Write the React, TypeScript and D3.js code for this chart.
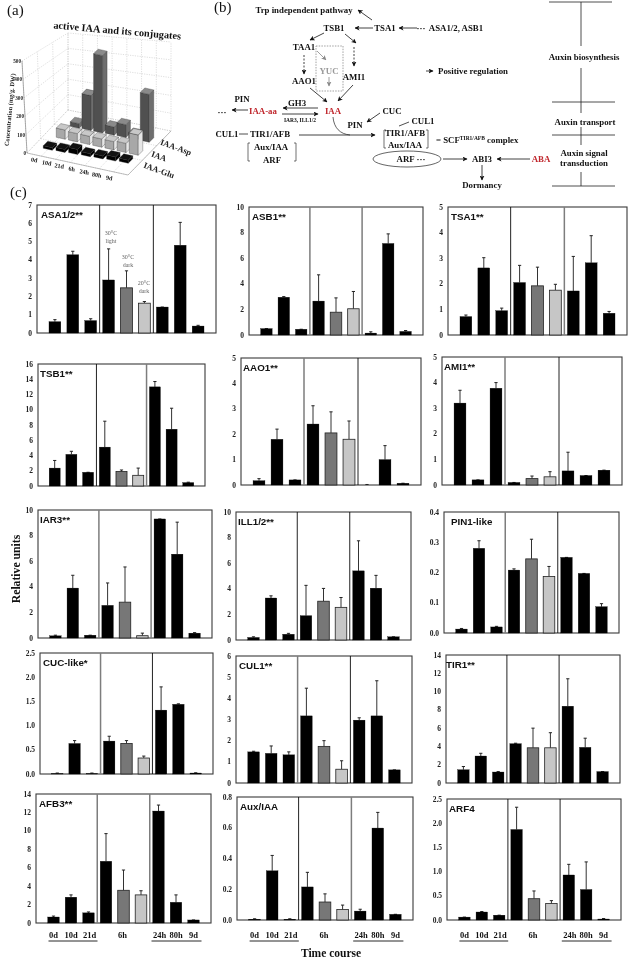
import React from "react";
import * as d3 from "d3";

// ---------- data ----------
const timeLabels = ["0d", "10d", "21d", "6h-a", "6h", "6h-c", "24h", "80h", "9d"];
const lastRow = ["AFB3**", "Aux/IAA", "ARF4"];

const asaV = [0.62, 4.28, 0.68, 2.9, 2.47, 1.63, 1.42, 4.8, 0.38];
const asaT = [0.73, 4.47, 0.78, 4.6, 3.4, 1.72, 1.42, 6.05, 0.42];
const asbV = [0.5, 2.95, 0.45, 2.65, 1.78, 2.05, 0.15, 7.15, 0.28];
const asbT = [0.5, 3.0, 0.45, 4.7, 2.9, 3.4, 0.25, 7.9, 0.35];
const tsaV = [0.72, 2.62, 0.95, 2.05, 1.92, 1.75, 1.72, 2.82, 0.85];
const tsaT = [0.78, 3.02, 1.05, 2.72, 2.65, 1.98, 3.07, 3.88, 0.92];
const tsbV = [2.35, 4.15, 1.8, 5.1, 1.9, 1.4, 13.0, 7.45, 0.45];
const tsbT = [3.35, 4.55, 1.8, 8.5, 2.1, 2.35, 13.7, 10.2, 0.5];
const aaoV = [0.17, 1.8, 0.2, 2.4, 2.05, 1.8, 0.0, 1.0, 0.07];
const aaoT = [0.25, 2.2, 0.2, 3.12, 2.88, 2.52, 0.02, 1.55, 0.07];
const amiV = [3.2, 0.2, 3.78, 0.1, 0.25, 0.32, 0.55, 0.37, 0.58];
const amiT = [3.7, 0.2, 4.0, 0.1, 0.35, 0.52, 1.28, 0.37, 0.58];
const iarV = [0.17, 3.9, 0.22, 2.55, 2.8, 0.18, 9.3, 6.55, 0.38];
const iarT = [0.22, 4.9, 0.22, 4.3, 5.55, 0.38, 9.3, 9.05, 0.42];
const illV = [0.2, 3.28, 0.45, 1.9, 3.03, 2.55, 5.4, 4.05, 0.25];
const illT = [0.25, 3.45, 0.52, 4.27, 4.03, 3.32, 7.75, 5.05, 0.25];
const pinV = [0.013, 0.28, 0.02, 0.208, 0.245, 0.187, 0.25, 0.197, 0.087];
const pinT = [0.015, 0.305, 0.022, 0.212, 0.31, 0.22, 0.25, 0.197, 0.097];
const cucV = [0.01, 0.63, 0.01, 0.68, 0.63, 0.33, 1.32, 1.44, 0.02];
const cucT = [0.02, 0.69, 0.02, 0.78, 0.69, 0.37, 1.8, 1.45, 0.025];
const culV = [1.47, 1.4, 1.33, 3.17, 1.73, 0.65, 2.97, 3.17, 0.62];
const culT = [1.5, 1.75, 1.47, 4.48, 2.0, 1.05, 3.08, 4.83, 0.62];
const tirV = [1.45, 2.95, 1.2, 4.3, 3.85, 3.85, 8.4, 3.9, 1.25];
const tirT = [1.8, 3.25, 1.25, 4.35, 6.0, 5.5, 11.4, 4.9, 1.25];
const afbV = [0.65, 2.8, 1.1, 6.7, 3.55, 3.05, 12.15, 2.25, 0.33];
const afbT = [0.75, 3.05, 1.2, 9.7, 5.75, 3.5, 12.8, 3.05, 0.33];
const auxV = [0.005, 0.32, 0.005, 0.215, 0.117, 0.068, 0.058, 0.598, 0.037];
const auxT = [0.008, 0.42, 0.008, 0.31, 0.17, 0.097, 0.07, 0.7, 0.037];
const arfV = [0.06, 0.165, 0.1, 1.87, 0.44, 0.34, 0.93, 0.63, 0.02];
const arfT = [0.06, 0.175, 0.1, 2.33, 0.6, 0.4, 1.15, 1.2, 0.03];

// panel (a) concentrations
const gcLabels = ["0d", "10d", "21d", "6h", "24h", "80h", "9d"];
const gcGlu = [14, 16, 28, 16, 16, 22, 16];
const gcIaa = [50, 45, 45, 45, 45, 50, 110];
const gcAsp = [25, 190, 420, 45, 70, 30, 260];

// ---------- layout ----------
type P = { name: string; v: number[]; t: number[]; l: number; r: number; top: number; bot: number; max: number; n: number; dec: number; tx?: number; div: [number, number]; };
const G = "#7d7d7d", K = "#0a0a0a";
const panels: P[] = [
  { name: "ASA1/2**", v: asaV, t: asaT, l: 37, r: 216, top: 205, bot: 333, max: 7, n: 7, dec: 0, tx: 4, div: [0, 0] },
  { name: "ASB1**", v: asbV, t: asbT, l: 249, r: 423, top: 207, bot: 335, max: 10, n: 5, dec: 0, div: [1, 1] },
  { name: "TSA1**", v: tsaV, t: tsaT, l: 448, r: 627, top: 207, bot: 335, max: 5, n: 5, dec: 0, div: [0, 1] },
  { name: "TSB1**", v: tsbV, t: tsbT, l: 38, r: 205, top: 364, bot: 486, max: 16, n: 8, dec: 0, tx: 2, div: [0, 1] },
  { name: "AAO1**", v: aaoV, t: aaoT, l: 241, r: 421, top: 358, bot: 485, max: 5, n: 5, dec: 0, tx: 2, div: [1, 0] },
  { name: "AMI1**", v: amiV, t: amiT, l: 442, r: 622, top: 357, bot: 485, max: 5, n: 5, dec: 0, tx: 2, div: [1, 0] },
  { name: "IAR3**", v: iarV, t: iarT, l: 38, r: 212, top: 510, bot: 638, max: 10, n: 5, dec: 0, tx: 2, div: [1, 1] },
  { name: "ILL1/2**", v: illV, t: illT, l: 236, r: 411, top: 512, bot: 640, max: 10, n: 5, dec: 0, tx: 2, div: [0, 0] },
  { name: "PIN1-like", v: pinV, t: pinT, l: 444, r: 619, top: 512, bot: 633, max: 0.4, n: 4, dec: 1, tx: 7, div: [1, 0] },
  { name: "CUC-like*", v: cucV, t: cucT, l: 40, r: 213, top: 653, bot: 774, max: 2.5, n: 5, dec: 1, div: [1, 0] },
  { name: "CUL1**", v: culV, t: culT, l: 236, r: 412, top: 656, bot: 783, max: 6, n: 6, dec: 0, div: [1, 0] },
  { name: "TIR1**", v: tirV, t: tirT, l: 446, r: 620, top: 655, bot: 783, max: 14, n: 7, dec: 0, tx: 0, div: [0, 0] },
  { name: "AFB3**", v: afbV, t: afbT, l: 36, r: 211, top: 794, bot: 923, max: 14, n: 7, dec: 0, div: [1, 1] },
  { name: "Aux/IAA", v: auxV, t: auxT, l: 237, r: 413, top: 797, bot: 920, max: 0.8, n: 4, dec: 1, div: [0, 1] },
  { name: "ARF4", v: arfV, t: arfT, l: 447, r: 621, top: 799, bot: 920, max: 2.5, n: 5, dec: 1, tx: 2, div: [0, 0] },
];

const SERIF = "'Liberation Serif', serif";
const SANS = "'Liberation Sans', sans-serif";
const barFill = (i: number) => (i === 4 ? "#777" : i === 5 ? "#c6c6c6" : "#000");

function Panel({ p }: { p: P }) {
  const x = d3.scalePoint<string>().domain(timeLabels).range([p.l, p.r]).padding(1);
  const y = d3.scaleLinear().domain([0, p.max]).range([p.bot, p.top]);
  const fmt = d3.format(p.dec ? ".1f" : "d");
  const cx = (i: number) => x(timeLabels[i]) as number;
  const d1 = (cx(2) + cx(3)) / 2, d2 = (cx(5) + cx(6)) / 2;
  const last = lastRow.includes(p.name);
  const bw = x.step() * 0.66;
  return (
    <g>
      <rect x={p.l} y={p.top} width={p.r - p.l} height={p.bot - p.top} fill="none" stroke="#3a3a3a" strokeWidth={1.1} />
      {[d1, d2].map((d, k) => (
        <line key={k} x1={d} x2={d} y1={p.top} y2={p.bot} stroke={p.div[k] ? G : K} strokeWidth={p.div[k] ? 1.5 : 0.9} />
      ))}
      {y.ticks(p.n).map((t) => (
        <text key={t} x={p.l - 5} y={y(t) + 2.5} textAnchor="end" fontFamily={SERIF} fontWeight="bold" fontSize={7.5} fill="#222">{fmt(t)}</text>
      ))}
      {p.v.map((v, i) => (
        <g key={i}>
          <line x1={cx(i)} x2={cx(i)} y1={y(v)} y2={y(p.t[i])} stroke="#333" strokeWidth={1} />
          <line x1={cx(i) - 1.6} x2={cx(i) + 1.6} y1={y(p.t[i])} y2={y(p.t[i])} stroke="#222" strokeWidth={1} />
          <rect x={cx(i) - bw / 2} y={y(v)} width={bw} height={Math.max(p.bot - y(v), 0)} fill={barFill(i)} stroke={i === 4 || i === 5 ? "#222" : "#000"} strokeWidth={i === 4 || i === 5 ? 0.8 : 0.3} />
        </g>
      ))}
      <text x={p.l + (p.tx ?? 3)} y={p.top + 12.5} fontFamily={SANS} fontWeight="bold" fontSize={9.8} fill="#111">{p.name}</text>
      {last && (
        <g fontFamily={SERIF} fontWeight="bold" fontSize={8.5} fill="#111" textAnchor="middle">
          {[0, 1, 2, 6, 7, 8].map((i) => (
            <text key={i} x={cx(i) + (i === 2 || i === 6 ? 1 : 0)} y={938}>{timeLabels[i]}</text>
          ))}
          <text x={cx(4) - 1} y={938}>6h</text>
          <line x1={cx(0) - 5} x2={cx(2) + 9} y1={941} y2={941} stroke="#111" strokeWidth={0.9} />
          <line x1={cx(6) - 7} x2={cx(8) + 8} y1={941} y2={941} stroke="#111" strokeWidth={0.9} />
        </g>
      )}
    </g>
  );
}

// ---------- panel (a) ----------
const poly = d3.line<[number, number]>();
type Pt = [number, number];
const FL: Pt = [27, 153], FR: Pt = [128, 175], BR: Pt = [171, 131], BL: Pt = [68, 110];
const lerp = (a: Pt, b: Pt, t: number): Pt => [a[0] + (b[0] - a[0]) * t, a[1] + (b[1] - a[1]) * t];
const zScale = d3.scaleLinear().domain([0, 500]).range([0, 92]);
const zScaleBack = d3.scaleLinear().domain([0, 500]).range([0, 77]);
const zBR = d3.scaleLinear().domain([0, 500]).range([0, 89]);
const zTicks = [0, 100, 200, 300, 400, 500];
const zTickY = d3.scaleLinear().domain([0, 500]).range([153, 61]);

function Bar3D({ c, h, front, side, top }: { c: Pt; h: number; front: string; side: string; top: string }) {
  const e: Pt = [9, 2], d: Pt = [4.5, -4.5];
  const a: Pt = [c[0] - e[0] / 2 - d[0] / 2, c[1] - e[1] / 2 - d[1] / 2];
  const b: Pt = [a[0] + e[0], a[1] + e[1]];
  const g: Pt = [b[0] + d[0], b[1] + d[1]];
  const f: Pt = [a[0] + d[0], a[1] + d[1]];
  const up = (q: Pt): Pt => [q[0], q[1] - h];
  return (
    <g stroke="#222" strokeWidth={0.3}>
      <path d={poly([a, b, up(b), up(a)]) + "Z"} fill={front} />
      <path d={poly([b, g, up(g), up(b)]) + "Z"} fill={side} />
      <path d={poly([up(a), up(b), up(g), up(f)]) + "Z"} fill={top} />
    </g>
  );
}

function Panel3D() {
  const idx = gcLabels.map((_, i) => i);
  const rowX = (a: number, b: number) => d3.scaleLinear().domain([0, 6]).range([a, b]);
  const rows = [
    { vals: gcAsp, x: rowX(77, 147), y: rowX(125, 139), front: "#505050", side: "#6e6e6e", top: "#8a8a8a" },
    { vals: gcIaa, x: rowX(63, 136), y: rowX(136, 152), front: "#a8a8a8", side: "#e6e6e6", top: "#c8c8c8" },
    { vals: gcGlu, x: rowX(50, 126), y: rowX(147, 160), front: "#000", side: "#000", top: "#111" },
  ];
  const gridFrac = d3.range(0, 8).map((i) => i / 7);
  const gridStroke = { stroke: "#bdbdbd", strokeWidth: 0.5, strokeDasharray: "1.2 1.2" };
  return (
    <g>
      {gridFrac.map((t, i) => {
        const a = lerp(FL, FR, t), b = lerp(BL, BR, t);
        const h = zScaleBack(500) + (zBR(500) - zScaleBack(500)) * t;
        return (
          <g key={i} {...gridStroke}>
            <line x1={a[0]} y1={a[1]} x2={b[0]} y2={b[1]} />
            <line x1={b[0]} y1={b[1]} x2={b[0]} y2={b[1] - h} />
          </g>
        );
      })}
      {d3.range(0, 4).map((i) => {
        const t = i / 3, a = lerp(FL, BL, t), b = lerp(FR, BR, t);
        const h = zScale(500) + (zScaleBack(500) - zScale(500)) * t;
        return (
          <g key={i} {...gridStroke}>
            <line x1={a[0]} y1={a[1]} x2={b[0]} y2={b[1]} />
            <line x1={a[0]} y1={a[1]} x2={a[0] - 5 * (1 - t)} y2={a[1] - h} />
          </g>
        );
      })}
      {zTicks.map((z) => (
        <g key={z} {...gridStroke}>
          <line x1={FL[0] - z / 100} y1={FL[1] - zScale(z)} x2={BL[0]} y2={BL[1] - zScaleBack(z)} />
          <line x1={BL[0]} y1={BL[1] - zScaleBack(z)} x2={BR[0]} y2={BR[1] - zBR(z)} />
        </g>
      ))}
      <path d={poly([FL, FR, BR]) as string} fill="none" stroke="#9a9a9a" strokeWidth={0.6} />
      <line x1={FL[0]} y1={FL[1]} x2={FL[0] - 5} y2={FL[1] - zScale(500)} stroke="#777" strokeWidth={0.6} />
      {rows.map((r, k) => (
        <g key={k}>
          {idx.map((i) => (
            <Bar3D key={i} c={[r.x(i), r.y(i)]} h={zScale(r.vals[i])} front={r.front} side={r.side} top={r.top} />
          ))}
        </g>
      ))}
      <g fontFamily={SERIF} fontWeight="bold" fontSize={5.2} fill="#222">
        {zTicks.map((z) => (
          <text key={z} x={26 - z / 100} y={zTickY(z) + 2} textAnchor="end">{z}</text>
        ))}
        {gcLabels.map((l, i) => {
          const tx = d3.scaleLinear().domain([0, 6]).range([34, 109])(i);
          const ty = d3.scaleLinear().domain([0, 6]).range([162, 180])(i);
          return <text key={l} x={tx} y={ty} fontSize={6.2} textAnchor="middle" transform={`rotate(8 ${tx} ${ty})`}>{l}</text>;
        })}
        <text x={0} y={0} fontSize={6.4} textAnchor="middle" transform="translate(12,110) rotate(-85)">Concentration (mg/g. DW)</text>
      </g>
      <g fontFamily={SERIF} fontWeight="bold" fontSize={8.5} fill="#222" textAnchor="middle">
        <text transform="translate(175,150) rotate(20)">IAA-Asp</text>
        <text transform="translate(158,159) rotate(20)">IAA</text>
        <text transform="translate(158,173) rotate(20)">IAA-Glu</text>
      </g>
      <text transform="translate(117,34) rotate(5)" textAnchor="middle" fontFamily={SERIF} fontWeight="bold" fontSize={10.3} fill="#111">active IAA and its conjugates</text>
    </g>
  );
}

// ---------- panel (b) ----------
const bLabels: [string, number, number][] = [
  ["Trp independent pathway", 304, 13], ["TSB1", 334, 31], ["TSA1", 385, 31], ["ASA1/2, ASB1", 456, 31],
  ["···", 421, 31], ["TAA1", 304, 50], ["AMI1", 354, 80], ["AAO1", 304, 84], ["Positive regulation", 473, 74],
  ["PIN", 242, 102], ["GH3", 297, 106], ["···", 222, 115], ["CUC", 392, 114], ["PIN", 355, 128], ["CUL1", 423, 124],
  ["CUL1", 227, 137], ["TIR1/AFB", 270, 137], ["TIR1/AFB", 405, 136], ["Aux/IAA", 405, 148], ["Aux/IAA", 271, 150],
  ["ARF", 272, 163], ["ARF ···", 411, 162], ["ABI3", 482, 162], ["Dormancy", 482, 188],
  ["Auxin biosynthesis", 584, 60], ["Auxin transport", 585, 125], ["Auxin signal", 584, 156], ["transduction", 584, 166],
];
const bRed: [string, number, number][] = [["IAA-aa", 263, 114], ["IAA", 333, 114], ["ABA", 541, 162]];
type Arrow = [number, number, number, number];
const bArrows: Arrow[] = [
  [372, 20, 358, 10], [373, 28, 355, 28], [417, 28, 399, 28], [324, 33, 310, 40], [345, 34, 356, 43],
  [310, 88, 327, 102], [353, 85, 338, 101], [318, 108, 283, 108], [282, 114, 318, 114], [248, 110, 232, 110],
  [380, 113, 367, 122], [299, 135, 375, 135], [443, 159, 467, 159], [530, 159, 497, 159], [482, 165, 482, 180], [426, 71, 433, 71],
];
const bDashed: Arrow[] = [[354, 47, 354, 66], [304, 55, 304, 74]];
const bGrayArrows: Arrow[] = [[317, 51, 326, 60], [329, 77, 329, 86]];
const bPlain: Arrow[] = [
  [239, 134, 248, 134], [399, 126, 409, 122],
  [549, 2, 612, 2], [552, 102, 615, 102], [552, 135, 615, 135], [552, 186, 615, 186],
  [581, 2, 581, 46], [581, 68, 581, 113], [581, 127, 581, 145], [581, 172, 581, 186],
];
const bBrackets: [number, number, number, number][] = [[248, 296, 143, 161], [384, 428, 130, 148]];

function PanelB() {
  return (
    <g>
      <defs>
        <marker id="ah" viewBox="0 0 10 10" refX="9" refY="5" markerWidth="5" markerHeight="5" markerUnits="userSpaceOnUse" orient="auto">
          <path d="M0,0L10,5L0,10L2.5,5Z" fill="#111" />
        </marker>
        <marker id="ahg" viewBox="0 0 10 10" refX="9" refY="5" markerWidth="5" markerHeight="5" markerUnits="userSpaceOnUse" orient="auto">
          <path d="M0,0L10,5L0,10L2.5,5Z" fill="#888" />
        </marker>
      </defs>
      {bPlain.map((a, i) => <line key={i} x1={a[0]} y1={a[1]} x2={a[2]} y2={a[3]} stroke="#222" strokeWidth={0.8} />)}
      {bArrows.map((a, i) => <line key={i} x1={a[0]} y1={a[1]} x2={a[2]} y2={a[3]} stroke="#111" strokeWidth={0.8} markerEnd="url(#ah)" />)}
      {bDashed.map((a, i) => <line key={i} x1={a[0]} y1={a[1]} x2={a[2]} y2={a[3]} stroke="#111" strokeWidth={0.8} strokeDasharray="2 1.5" markerEnd="url(#ah)" />)}
      {bGrayArrows.map((a, i) => <line key={i} x1={a[0]} y1={a[1]} x2={a[2]} y2={a[3]} stroke="#888" strokeWidth={0.8} markerEnd="url(#ahg)" />)}
      <rect x={316} y={46} width={27} height={45} fill="none" stroke="#8a8a8a" strokeWidth={0.8} strokeDasharray="1.5 1.2" />
      <path d="M333,117 C334,128 340,134 350,135" fill="none" stroke="#222" strokeWidth={0.7} />
      <ellipse cx={407} cy={159} rx={34} ry={8} fill="none" stroke="#222" strokeWidth={0.7} />
      {bBrackets.map((b, i) => (
        <g key={i} fill="none" stroke="#333" strokeWidth={0.7}>
          <path d={`M${b[0] + 2},${b[2]}H${b[0]}V${b[3]}H${b[0] + 2}`} />
          <path d={`M${b[1] - 2},${b[2]}H${b[1]}V${b[3]}H${b[1] - 2}`} />
        </g>
      ))}
      <g fontFamily={SERIF} fontWeight="bold" fontSize={8.8} fill="#111" textAnchor="middle">
        {bLabels.map(([t, x, y], i) => <text key={i} x={x} y={y}>{t}</text>)}
        <text x={329} y={74} fill="#9a9a9a" fontSize={8.8}>YUC</text>
        <text x={300} y={122} fontSize={5.5}>IAR3, ILL1/2</text>
        <text x={436} y={143} textAnchor="start">= SCF<tspan fontSize={5.5} dy={-3}>TIR1/AFB</tspan><tspan dy={3}> complex</tspan></text>
      </g>
      <g fontFamily={SERIF} fontWeight="bold" fontSize={8.8} fill="#c0272d" textAnchor="middle">
        {bRed.map(([t, x, y], i) => <text key={i} x={x} y={y}>{t}</text>)}
      </g>
    </g>
  );
}

const tempNotes: [string, string, number, number][] = [
  ["30°C", "light", 111, 235], ["30°C", "dark", 128, 259], ["20°C", "dark", 144, 285],
];

export default function App() {
  return (
    <svg width={628} height={958} viewBox="0 0 628 958"
      style={{ position: "absolute", left: 0, top: 0, background: "#fff", filter: "blur(0.3px)" }}>
      <rect width={628} height={958} fill="#fff" />
      <g fontFamily={SERIF} fontSize={15} fill="#111">
        <text x={7} y={15}>(a)</text>
        <text x={214} y={12}>(b)</text>
        <text x={10} y={197}>(c)</text>
      </g>
      <Panel3D />
      <PanelB />
      {panels.map((p) => <Panel key={p.name} p={p} />)}
      {tempNotes.map(([a, b, x, y]) => (
        <g key={x} fontFamily={SERIF} fontSize={6} fill="#666" textAnchor="middle">
          <text x={x} y={y}>{a}</text>
          <text x={x} y={y + 8}>{b}</text>
        </g>
      ))}
      <text transform="translate(20,569) rotate(-90)" textAnchor="middle" fontFamily={SERIF} fontWeight="bold" fontSize={11.7} fill="#111">Relative units</text>
      <text x={331} y={957} textAnchor="middle" fontFamily={SERIF} fontWeight="bold" fontSize={11.5} fill="#111">Time course</text>
    </svg>
  );
}
